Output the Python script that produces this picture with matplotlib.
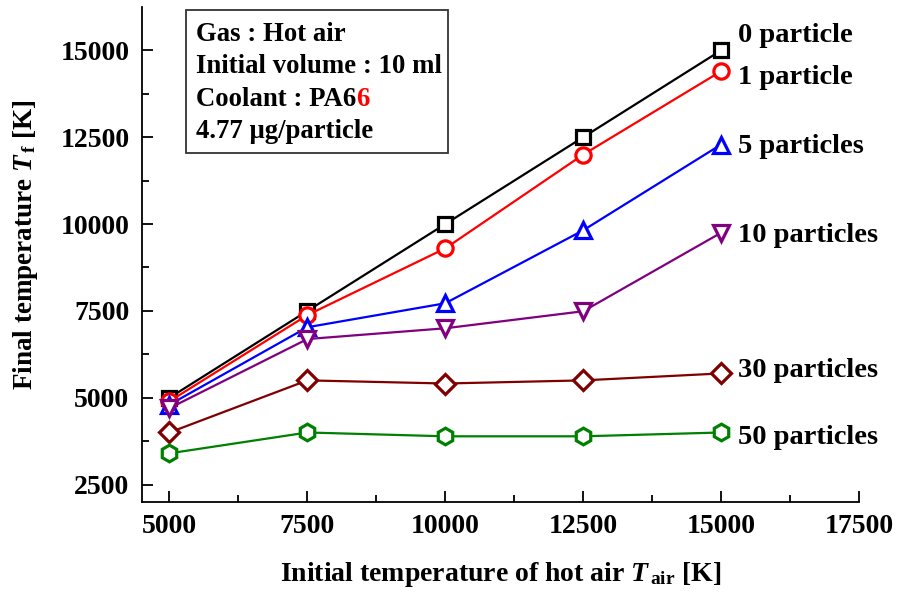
import matplotlib
matplotlib.use("Agg")
import matplotlib.pyplot as plt
from matplotlib.patches import Rectangle

plt.rcParams['font.family'] = ['Liberation Serif', 'DejaVu Serif']
plt.rcParams['font.weight'] = 'bold'
plt.rcParams['mathtext.fontset'] = 'custom'
plt.rcParams['mathtext.rm'] = 'Liberation Serif:bold'
plt.rcParams['mathtext.it'] = 'Liberation Serif:italic:bold'
plt.rcParams['mathtext.bf'] = 'Liberation Serif:bold'

t_air = [5000, 7500, 10000, 12500, 15000]
series_labels = ['0 particle', '1 particle', '5 particles', '10 particles', '30 particles', '50 particles']
tf_0 = [5000, 7500, 10000, 12500, 15000]
tf_1 = [4900, 7380, 9300, 12000, 14400]
tf_5 = [4800, 7030, 7720, 9820, 12290]
tf_10 = [4700, 6690, 7000, 7490, 9750]
tf_30 = [4000, 5500, 5410, 5500, 5700]
tf_50 = [3400, 4000, 3890, 3890, 4000]
label_y = [15430, 14230, 12230, 9660, 5790, 3860]

series = [tf_0, tf_1, tf_5, tf_10, tf_30, tf_50]
colors = ['black', '#ff0000', '#0000ff', '#800080', '#800000', '#008000']
markers = ['s', 'o', '^', 'v', 'D', 'h']
msizes = [10, 11, 12, 12, 10, 12]

fig = plt.figure(figsize=(8.98, 5.99), dpi=100)
ax = fig.add_axes([0.158, 0.162, 0.7986, 0.8264])

for ys, c, m, ms in zip(series, colors, markers, msizes):
    ax.plot(t_air, ys, color=c, lw=1.6, marker=m, ms=ms, mfc='white',
            mec=c, mew=2.3, zorder=3)

for lab, ly in zip(series_labels, label_y):
    ax.text(15300, ly, lab, fontsize=20.5, fontweight='bold', va='center', ha='left')

ax.set_xlim(4500, 17500)
ax.set_ylim(2000, 16250)
ax.set_xticks([5000, 7500, 10000, 12500, 15000, 17500])
ax.set_yticks([2500, 5000, 7500, 10000, 12500, 15000])
ax.set_xticks([6250, 8750, 11250, 13750, 16250], minor=True)
ax.set_yticks([3750, 6250, 8750, 11250, 13750], minor=True)
ax.tick_params(which='both', direction='in', width=1.3)
ax.tick_params(which='major', length=8, labelsize=20, pad=9)
ax.tick_params(which='minor', length=5)
for lbl in ax.get_xticklabels() + ax.get_yticklabels():
    lbl.set_fontweight('bold')
ax.spines['top'].set_visible(False)
ax.spines['right'].set_visible(False)
ax.spines['left'].set_linewidth(1.3)
ax.spines['bottom'].set_linewidth(1.3)

ax.set_xlabel(r'Initial temperature of hot air $T_{\,\mathregular{air}}$ [K]', fontsize=20, fontweight='bold', labelpad=15)
ax.set_ylabel(r'Final temperature $T_{\,\mathregular{f}}$ [K]', fontsize=19.5, fontweight='bold')
ax.yaxis.set_label_coords(-0.142, 0.52)

ax.add_patch(Rectangle((0.0614, 0.705), 0.3654, 0.289, transform=ax.transAxes,
                       fill=False, ec='#333333', lw=1.3, zorder=5))
lines = ['Gas : Hot air', 'Initial volume : 10 ml', 'Coolant : PA6', '4.77 \u03bcg/particle']
ly_box = [0.931, 0.867, 0.800, 0.735]
txts = []
for s, yy in zip(lines, ly_box):
    txts.append(ax.text(0.0753, yy, s, transform=ax.transAxes, fontsize=19.3,
                        fontweight='bold', va='baseline', ha='left'))
ax.annotate('6', xy=(1, 0), xycoords=txts[2], va='bottom', ha='left',
            fontsize=19.3, fontweight='bold', color='#ff0000')

fig.savefig('out.png', dpi=100)
